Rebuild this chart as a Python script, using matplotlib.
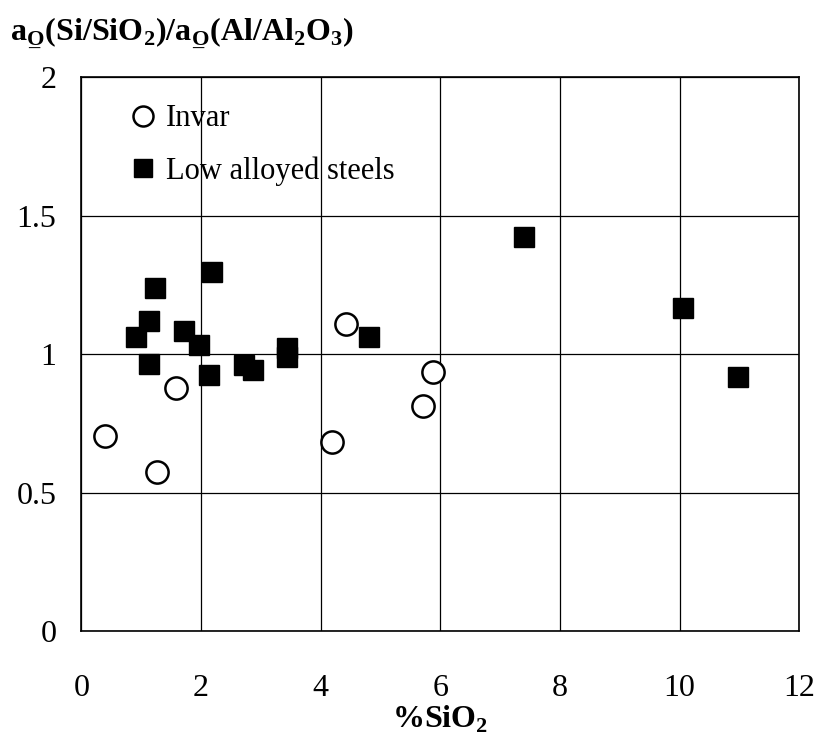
"""Oxygen activity ratio vs %SiO2 for Invar and low alloyed steels"""
import matplotlib
matplotlib.use("Agg")
import matplotlib.pyplot as plt

# data
invar_x = [0.39, 1.27, 1.58, 4.19, 4.43, 5.71, 5.88]
invar_y = [0.703, 0.573, 0.877, 0.684, 1.108, 0.814, 0.937]

steel_x = [0.92, 1.13, 1.13, 1.23, 1.72, 1.96, 2.14, 2.18, 2.72, 2.86,
           3.43, 3.43, 4.81, 7.40, 10.05, 10.97]
steel_y = [1.061, 1.121, 0.965, 1.238, 1.084, 1.032, 0.923, 1.298, 0.961, 0.944,
           1.022, 0.989, 1.062, 1.422, 1.166, 0.917]

x_ticks = [0, 2, 4, 6, 8, 10, 12]
y_ticks = [0, 0.5, 1, 1.5, 2]
y_tick_labels = ["0", "0.5", "1", "1.5", "2"]

plt.rcParams["font.family"] = ["Liberation Serif", "DejaVu Serif"]
plt.rcParams["mathtext.fontset"] = "custom"
plt.rcParams["mathtext.rm"] = "Liberation Serif"
plt.rcParams["mathtext.bf"] = "Liberation Serif:bold"

fig = plt.figure(figsize=(8.23, 7.40), dpi=100)
ax = fig.add_axes([0.099, 0.147, 0.872, 0.749])

ax.plot(steel_x, steel_y, "s", color="black", markersize=14, zorder=3,
        label="Low alloyed steels")
ax.plot(invar_x, invar_y, "o", markerfacecolor="white", markeredgecolor="black",
        markeredgewidth=1.8, markersize=16, zorder=4, label="Invar")

ax.set_xlim(0, 12)
ax.set_ylim(0, 2)
ax.set_xticks(x_ticks)
ax.set_yticks(y_ticks)
ax.set_yticklabels(y_tick_labels)
ax.tick_params(length=0, labelsize=23)
ax.tick_params(axis="x", pad=31)
ax.tick_params(axis="y", pad=18)
ax.grid(True, color="black", linewidth=0.9)
ax.set_axisbelow(True)
for s in ax.spines.values():
    s.set_linewidth(1.2)

handles, labels = ax.get_legend_handles_labels()
ax.legend(handles[::-1], labels[::-1], loc="upper left", bbox_to_anchor=(0.026, 1.0),
          frameon=False, fontsize=22, handletextpad=0.25, labelspacing=0.75,
          handlelength=1.0, markerscale=0.9)

ax.set_xlabel(r"%SiO$_\mathbf{2}$", fontsize=23, fontweight="bold", labelpad=0)

# underlined O subscript built from O + back-kern + underscore
o_sub = r"{\mathbf{O}\hspace{-0.72}\mathbf{\_}\hspace{0.22}}"
title = (r"a$_" + o_sub + r"$(Si/SiO$_\mathbf{2}$)/a$_" + o_sub
         + r"$(Al/Al$_\mathbf{2}$O$_\mathbf{3}$)")
fig.text(0.012, 0.955, title, fontsize=23, fontweight="bold", ha="left", va="center")

fig.savefig("out.png", dpi=100)
